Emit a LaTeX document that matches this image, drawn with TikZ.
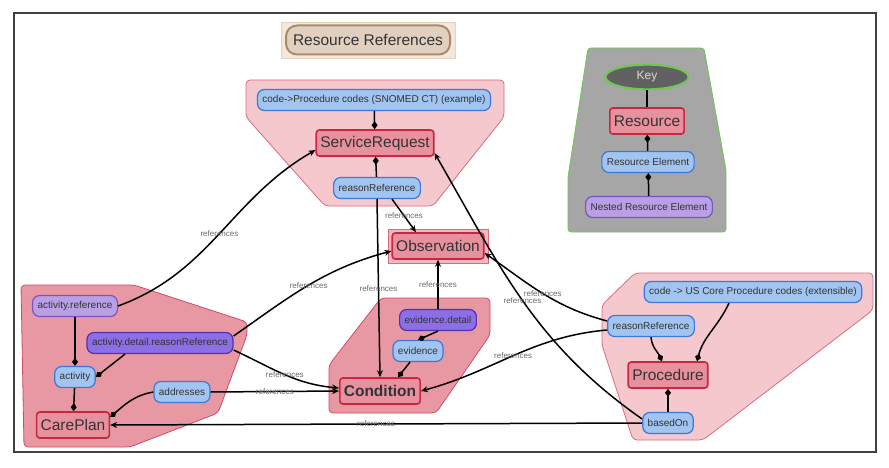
\documentclass[tikz,border=0pt]{standalone}
\usepackage{fontspec}
\setmainfont{Liberation Sans}
\usepackage{tikz}
\usetikzlibrary{arrows.meta,shapes.geometric}

\definecolor{txt}{HTML}{333333}
\definecolor{resfill}{HTML}{E8919E}
\definecolor{resline}{HTML}{C8283F}
\definecolor{elemfill}{HTML}{A2C4F0}
\definecolor{elemline}{HTML}{3C78D7}
\definecolor{nestfill}{HTML}{B9A0E4}
\definecolor{nestline}{HTML}{7855BE}
\definecolor{deepfill}{HTML}{8C6EE6}
\definecolor{deepline}{HTML}{5032AA}
\definecolor{grplfill}{HTML}{F5C8CE}
\definecolor{grplline}{HTML}{DA6A80}
\definecolor{grpdfill}{HTML}{E898A2}
\definecolor{grpdline}{HTML}{D04A64}
\definecolor{keyfill}{HTML}{A6A6A6}
\definecolor{keyline}{HTML}{6CC850}
\definecolor{lblgray}{HTML}{6A6A6A}

\begin{document}
\begin{tikzpicture}
	[x=1pt,y=1pt,
	res/.style={draw=resline,fill=resfill,line width=1.6pt,rounded corners=3pt,text=txt,font=\fontsize{15.5}{18}\selectfont,minimum height=26pt,inner xsep=4pt},
	elem/.style={draw=elemline,fill=elemfill,line width=1.2pt,rounded corners=7pt,text=txt,font=\fontsize{10}{12}\selectfont,minimum height=21pt,inner xsep=5pt},
	nest/.style={elem,draw=nestline,fill=nestfill},
	deep/.style={elem,draw=deepline,fill=deepfill},
	grpl/.style={draw=grplline,fill=grplfill,line width=0.8pt,rounded corners=4pt},
	grpd/.style={draw=grpdline,fill=grpdfill,line width=0.8pt,rounded corners=4pt},
	ref/.style={-{Stealth[length=7pt,width=6pt]},line width=1.5pt},
	has/.style={-{Diamond[length=8pt,width=6pt]},line width=1.5pt},
	lbl/.style={text=lblgray,font=\fontsize{8}{9}\selectfont,inner sep=0pt}]
	\useasboundingbox (0,0) rectangle (889,467);
	\draw[draw=black!75,line width=2pt] (14,15) rectangle (876,454);

	% groups
	\draw[grpl] (246,387) -- (504,387) -- (504,350) -- (433,261) -- (325,261) -- (246,350) -- cycle;
	\draw[grpd] (381,169) -- (490,169) -- (490,132) -- (436,54) -- (329,54) -- (329,102) -- cycle;
	\draw[grpd] (21,182) -- (134,182) -- (247,145) -- (247,132) -- (218,54) -- (130,20) -- (24,20) -- cycle;
	\draw[grpl] (635,194) -- (873,194) -- (873,157) -- (703,27) -- (633,27) -- (602,122) -- (602,162) -- cycle;
	\draw[draw=keyline,fill=keyfill,line width=0.8pt,rounded corners=3pt] (588,419) -- (704,419) -- (726,297) -- (726,235) -- (568,235) -- (568,290) -- cycle;

	\node[draw=brown!35,fill=brown!18,minimum width=174pt,minimum height=36pt] (titlebg) at (368,427) {};
	\node[draw=brown!70!black!70,fill=brown!30!white!90!gray,line width=2pt,rounded corners=11pt,minimum width=164pt,minimum height=29pt,text=txt,font=\fontsize{15.5}{18}\selectfont] (title) at (368,427) {Resource References};

	\node[elem] (srcode) at (374,367) {code->Procedure codes (SNOMED CT) (example)};
	\node[res] (sr) at (375,324) {ServiceRequest};
	\node[elem] (srreason) at (377,279) {reasonReference};

	\node[draw=grplline,fill=grpdfill!70!white,line width=0.8pt,minimum width=100pt,minimum height=34pt] (obsbg) at (438,221) {};
	\node[res] (obs) at (438,221) {Observation};

	\node[deep] (evdet) at (438,147) {evidence.detail};
	\node[elem] (ev) at (418,116) {evidence};
	\node[res,font=\fontsize{15.5}{18}\selectfont\bfseries] (cond) at (380,76) {Condition};

	\node[nest] (aref) at (75,161) {activity.reference};
	\node[deep] (adrr) at (160,124) {activity.detail.reasonReference};
	\node[elem] (act) at (75,90) {activity};
	\node[elem] (addr) at (182,75) {addresses};
	\node[res] (cp) at (73,42) {CarePlan};

	\node[elem] (pcode) at (753,175) {code -> US Core Procedure codes (extensible)};
	\node[elem] (preason) at (651,141) {reasonReference};
	\node[res] (proc) at (668,92) {Procedure};
	\node[elem] (based) at (668,44) {basedOn};

	\node[ellipse,draw=keyline,fill=black!62,line width=2pt,minimum width=83pt,minimum height=19pt,text=black!15,font=\fontsize{12}{14}\selectfont] (key) at (647,390) {Key};
	\node[res] (kres) at (647,346) {Resource};
	\node[elem] (kelem) at (648,305) {Resource Element};
	\node[nest] (knest) at (649,260) {Nested Resource Element};

	% element of
	\foreach \from/\to in {srcode/sr,srreason/sr,aref/act,act/cp,based/proc,kelem/kres,knest/kelem}
	\draw[has] (\from) -- (\to);
	\draw[line width=1.5pt] (key) -- (kres);
	\draw[has] ([xshift=-35pt]adrr.south) -- (act.east);
	\draw[has] (evdet.south) -- (ev.north);
	\draw[has] ([xshift=-8pt]ev.south) -- ([xshift=18pt]cond.north);
	\draw[has] (addr.west) to[out=190,in=40] ([yshift=8pt]cp.east);
	\draw[has] ([xshift=-24pt]pcode.south) to[out=-115,in=75] ([xshift=29pt]proc.north);
	\draw[has] (preason.south) to[out=-85,in=115] ([xshift=-6pt]proc.north);

	% references
	\draw[ref] (aref.east) to[out=20,in=210] node[lbl] {references} ([yshift=-7pt]sr.west);
	\draw[ref] ([yshift=7pt]adrr.east) to[out=35,in=195] node[lbl] {references} ([yshift=-5pt]obs.west);
	\draw[ref] ([yshift=-7pt]adrr.east) to[out=-25,in=175] node[lbl] {references} ([yshift=3pt]cond.west);
	\draw[ref] (addr.east) -- node[lbl] {references} (cond.west);
	\draw[ref] ([xshift=15pt]srreason.south) -- node[lbl] {references} ([xshift=-22pt]obs.north);
	\draw[ref] (srreason.south) -- node[lbl] {references} (cond.north);
	\draw[ref] (evdet.north) -- node[lbl] {references} (obs.south);
	\draw[ref] ([yshift=5pt]preason.west) to[out=165,in=-35] node[lbl] {references} ([yshift=-7pt]obs.east);
	\draw[ref] ([yshift=-4pt]preason.west) to[out=185,in=15] node[lbl] {references} (cond.east);
	\draw[ref] ([yshift=4pt]based.west) to[out=145,in=-60] node[lbl] {references} ([yshift=-10pt]sr.east);
	\draw[ref] (based.west) -- node[lbl] {references} (cp.east);
\end{tikzpicture}
\end{document}
